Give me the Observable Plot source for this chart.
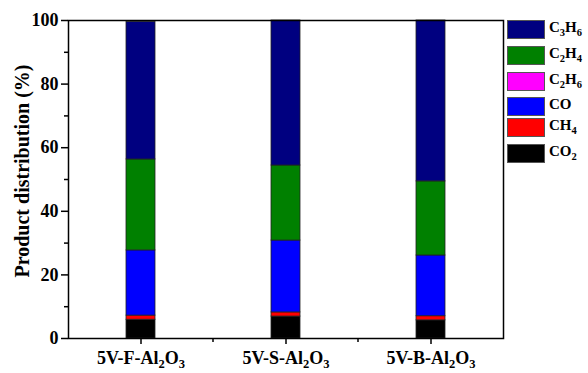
<!DOCTYPE html>
<html><head><meta charset="utf-8">
<script src="https://cdn.jsdelivr.net/npm/d3@7"></script>
<script src="https://cdn.jsdelivr.net/npm/@observablehq/plot@0.6"></script>
<style>
body{margin:0;background:#fff;}
#wrap{position:relative;width:588px;height:373px;font-family:"Liberation Serif","Times New Roman",serif;}
#legend{position:absolute;left:507px;top:20px;font-weight:bold;font-size:15px;}
.li{position:absolute;left:0;width:180px;height:18px;}
.sw{position:absolute;left:0;top:0;width:36px;height:17px;border:1px solid #555;}
.lt{position:absolute;left:42px;top:-1px;white-space:nowrap;}
sub{font-size:10.5px;vertical-align:-4px;line-height:0;}
</style>
</head><body><div id="wrap"></div>
<script>
const categories = ["5V-F-Al2O3", "5V-S-Al2O3", "5V-B-Al2O3"];
const species = ["CO2", "CH4", "CO", "C2H6", "C2H4", "C3H6"];
const colors = ["#000000", "#FF0000", "#0000FF", "#FF00FF", "#008000", "#000080"];
const CO2  = [5.9, 6.9, 5.7];
const CH4  = [1.3, 1.3, 1.3];
const CO   = [20.5, 22.6, 19.1];
const C2H6 = [0.0, 0.0, 0.0];
const C2H4 = [28.6, 23.6, 23.3];
const C3H6 = [43.2, 45.6, 50.6];
const yTicks = [0, 20, 40, 60, 80, 100];
const yMinor = [10, 30, 50, 70, 90];
const yTitle = "Product distribution (%)";

const seriesVals = {CO2, CH4, CO, C2H6, C2H4, C3H6};
const data = [];
species.forEach(s => categories.forEach((c, i) => data.push({cat: c, sp: s, v: seriesVals[s][i]})));

const font = '"Liberation Serif","Times New Roman",serif';
const plot = Plot.plot({
  width: 588, height: 373,
  marginLeft: 68, marginRight: 85, marginTop: 20, marginBottom: 35,
  style: {fontFamily: font, fontWeight: "bold", fontSize: "18px", color: "#000", background: "#fff"},
  x: {domain: categories, paddingInner: 0.8, paddingOuter: 0.4},
  y: {domain: [0, 100]},
  color: {domain: species, range: colors},
  marks: [
    Plot.barY(data, {x: "cat", y: "v", fill: "sp", stroke: "#222", strokeWidth: 0.8, order: species}),
    Plot.axisY({ticks: yMinor, tickSize: 4, text: null, label: null, strokeWidth: 1.5}),
    Plot.axisY({ticks: yTicks, tickSize: 7, tickPadding: 3, strokeWidth: 1.5, fontSize: 18, label: null}),
    Plot.axisX({tickSize: 6, tickPadding: 7, strokeWidth: 1.5, fontSize: 18, label: null}),
    Plot.frame({stroke: "#000", strokeWidth: 1.5})
  ]
});
document.getElementById("wrap").appendChild(plot);

const svg = d3.select(plot);
// y axis title
svg.append("text").attr("transform", "translate(29,171) rotate(-90)")
  .attr("text-anchor", "middle").attr("font-family", font).attr("font-weight", "bold")
  .attr("font-size", 20).attr("fill", "#000").text(yTitle);

// minor x ticks at band boundaries
const xs = plot.scale("x");
const step = xs.step, bw = xs.bandwidth;
const yb = 373 - 35;
categories.slice(0, -1).forEach(c => {
  const px = xs.apply(c) + bw / 2 + step / 2;
  svg.append("line").attr("x1", px).attr("x2", px).attr("y1", yb).attr("y2", yb + 4)
    .attr("stroke", "#000").attr("stroke-width", 1.5);
});

// subscripts in x tick labels (group runs, no empty spans)
function subify(textEl) {
  const s = textEl.textContent;
  const runs = [];
  for (let i = 0; i < s.length; i++) {
    const isSub = /[0-9]/.test(s[i]) && i > 0 && /[A-Za-z]/.test(s[i - 1]);
    if (runs.length && runs[runs.length - 1].sub === isSub) runs[runs.length - 1].t += s[i];
    else runs.push({t: s[i], sub: isSub});
  }
  const sel = d3.select(textEl);
  sel.text(null);
  let shifted = false;
  runs.forEach(r => {
    const ts = sel.append("tspan").text(r.t);
    if (r.sub) { ts.attr("font-size", "12.5px").attr("dy", 4); shifted = true; }
    else if (shifted) { ts.attr("dy", -4); shifted = false; }
  });
}
svg.selectAll('g[aria-label="x-axis tick label"] text').each(function(){ subify(this); });

// legend (HTML)
const leg = document.createElement("div");
leg.id = "legend";
const tops = [0, 26, 52, 77, 98, 124];
const order = [5, 4, 3, 2, 1, 0];
order.forEach((k, j) => {
  const d = document.createElement("div");
  d.className = "li"; d.style.top = tops[j] + "px";
  const sw = document.createElement("div"); sw.className = "sw"; sw.style.background = colors[k];
  const lt = document.createElement("div"); lt.className = "lt";
  lt.innerHTML = species[k].replace(/([A-Za-z])([0-9])/g, "$1<sub>$2</sub>");
  d.appendChild(sw); d.appendChild(lt); leg.appendChild(d);
});
document.getElementById("wrap").appendChild(leg);
</script></body></html>
